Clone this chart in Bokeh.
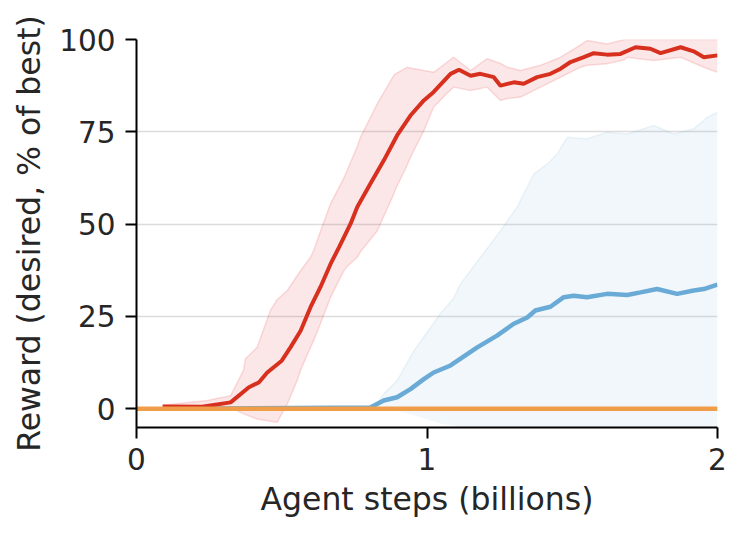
from bokeh.plotting import figure
from bokeh.models import ColumnDataSource, Range1d, FixedTicker
from bokeh.embed import file_html
from bokeh.resources import INLINE

# Red series (mean and band)
red_x = [0.09, 0.226, 0.324, 0.387, 0.421, 0.45, 0.50, 0.53, 0.565, 0.599, 0.633, 0.668, 0.697, 0.737,
         0.76, 0.805, 0.851, 0.897, 0.943, 0.989, 1.023, 1.081, 1.11, 1.15, 1.184, 1.23, 1.253, 1.299,
         1.333, 1.379, 1.425, 1.46, 1.494, 1.54, 1.574, 1.62, 1.666, 1.718, 1.769, 1.804, 1.873, 1.918,
         1.953, 2.0]
red_y = [0.6, 0.5, 1.7, 5.8, 7.1, 9.8, 13.0, 16.6, 21.1, 27.5, 32.9, 39.2, 43.7, 50.1,
         54.6, 60.9, 67.2, 74.0, 79.4, 83.5, 85.8, 90.7, 91.8, 90.2, 90.7, 89.8, 87.5, 88.4,
         88.0, 89.8, 90.7, 92.1, 93.9, 95.2, 96.3, 95.9, 96.1, 97.9, 97.5, 96.3, 97.9, 96.8,
         95.2, 95.7]
red_bx = [0.09, 0.243, 0.324, 0.369, 0.375, 0.415, 0.461, 0.484, 0.519, 0.553, 0.565, 0.599, 0.61, 0.633,
          0.668, 0.714, 0.725, 0.76, 0.771, 0.829, 0.886, 0.892, 0.932, 0.943, 0.989, 1.023, 1.07,
          1.092, 1.15, 1.207, 1.253, 1.276, 1.322, 1.391, 1.46, 1.528, 1.551, 1.62, 1.68, 1.689,
          1.78, 1.873, 1.953, 2.0]
red_lo = [0.3, 0.3, 0.35, -1.4, -1.6, -2.8, -3.4, -3.7, 1.3, 7.6, 10.5, 16.6, 18.5, 23.0,
          30.2, 37.4, 38.5, 41.0, 42.5, 48.2, 58.2, 59.5, 66.0, 68.1, 75.3, 81.7, 85.5,
          87.1, 86.2, 87.1, 83.5, 84.0, 84.4, 87.1, 89.8, 92.5, 93.0, 93.4, 94.5, 95.2,
          94.3, 95.2, 92.5, 91.1]
red_hi = [0.9, 2.2, 3.5, 10.5, 13.5, 16.6, 26.6, 29.5, 32.0, 36.0, 37.4, 41.0, 42.8, 48.0,
          55.5, 62.5, 64.5, 71.0, 73.5, 82.6, 90.3, 90.7, 92.5, 92.3, 91.6, 91.1, 93.9,
          95.2, 91.6, 94.8, 93.5, 92.5, 91.6, 93.0, 95.2, 98.5, 99.7, 98.8, 100.0, 100.0,
          100.0, 100.0, 100.0, 100.0]

# Blue series (mean and band)
blue_x = [0.09, 0.805, 0.851, 0.897, 0.943, 0.989, 1.023, 1.081, 1.173, 1.241, 1.299, 1.345, 1.373,
          1.425, 1.471, 1.505, 1.551, 1.62, 1.689, 1.735, 1.792, 1.861, 1.918, 1.953, 2.0]
blue_y = [0.0, 0.3, 2.2, 3.1, 5.3, 8.0, 9.8, 11.7, 16.6, 19.8, 23.0, 24.7, 26.6,
          27.6, 30.2, 30.6, 30.2, 31.1, 30.8, 31.5, 32.4, 31.1, 32.0, 32.4, 33.6]
blue_bx = [0.09, 0.78, 0.829, 0.851, 0.897, 0.955, 1.012, 1.046, 1.092, 1.115, 1.184, 1.253, 1.31,
           1.368, 1.414, 1.448, 1.483, 1.551, 1.62, 1.689, 1.781, 1.85, 1.918, 1.964, 2.0]
blue_lo = [0.0, 0.0, -0.2, -0.3, -0.5, -1.8, -3.2, -4.0, -4.6, -5.5, -6.5, -7.0, -7.5,
           -8.0, -8.0, -8.0, -8.0, -8.0, -8.0, -8.0, -8.0, -8.0, -8.0, -8.0, -8.0]
blue_hi = [0.0, 0.0, 1.5, 4.0, 7.6, 15.7, 22.0, 25.7, 30.0, 33.8, 41.0, 48.2, 54.6,
           63.6, 66.3, 69.0, 73.5, 73.1, 74.9, 74.4, 76.7, 74.4, 75.8, 78.9, 80.3]

# Orange series
orange_x = [0.0, 2.0]
orange_y = [0.0, 0.0]

x_ticks = [0, 1, 2]
y_ticks = [0, 25, 50, 75, 100]

TEXT = "#262626"
FONT = "DejaVu Sans"

p = figure(width=735, height=526, output_backend="svg", toolbar_location=None,
           x_range=Range1d(0, 2), y_range=Range1d(-5.1, 100),
           min_border_left=136, min_border_right=18, min_border_top=39, min_border_bottom=99)
p.outline_line_color = None
p.background_fill_color = "white"
p.border_fill_color = "white"

red_src = ColumnDataSource(dict(x=red_bx, lo=red_lo, hi=red_hi))
blue_src = ColumnDataSource(dict(x=blue_bx, lo=blue_lo, hi=blue_hi))

p.varea(x="x", y1="lo", y2="hi", source=blue_src, fill_color="#74add1", fill_alpha=0.1)
p.line(blue_bx, blue_hi, line_color="#74add1", line_alpha=0.12, line_width=1.5)
p.varea(x="x", y1="lo", y2="hi", source=red_src, fill_color="#e8474a", fill_alpha=0.13)
p.line(red_bx, red_hi, line_color="#e8474a", line_alpha=0.18, line_width=1.5)
p.line(red_bx, red_lo, line_color="#e8474a", line_alpha=0.18, line_width=1.5)

p.line(blue_x, blue_y, line_color="#6aaad6", line_width=4.5)
p.line(red_x, red_y, line_color="#d7301f", line_width=4)
p.line(orange_x, orange_y, line_color="#f09d4a", line_width=4.5)

p.xgrid.grid_line_color = None
p.ygrid.grid_line_color = "#dcdcdc"
p.ygrid.grid_line_width = 1.5
p.ygrid.ticker = FixedTicker(ticks=y_ticks)

p.xaxis.ticker = FixedTicker(ticks=x_ticks)
p.yaxis.ticker = FixedTicker(ticks=y_ticks)

for ax in (p.xaxis[0], p.yaxis[0]):
    ax.axis_line_color = "black"
    ax.axis_line_width = 2
    ax.major_tick_line_color = "black"
    ax.major_tick_line_width = 2
    ax.major_tick_in = 0
    ax.major_tick_out = 11
    ax.minor_tick_line_color = None
    ax.major_label_text_font = FONT
    ax.major_label_text_font_size = "29.5px"
    ax.major_label_text_color = TEXT
    ax.axis_label_text_font = FONT
    ax.axis_label_text_font_size = "31.5px"
    ax.axis_label_text_color = TEXT
    ax.axis_label_text_font_style = "normal"

p.xaxis.axis_label = "Agent steps (billions)"
p.yaxis.axis_label = "Reward (desired, % of best)"
p.xaxis.major_label_standoff = 9
p.yaxis.major_label_standoff = 10
p.xaxis.axis_label_standoff = 8
p.yaxis.axis_label_standoff = 9

open("out.html", "w").write(file_html(p, INLINE))
